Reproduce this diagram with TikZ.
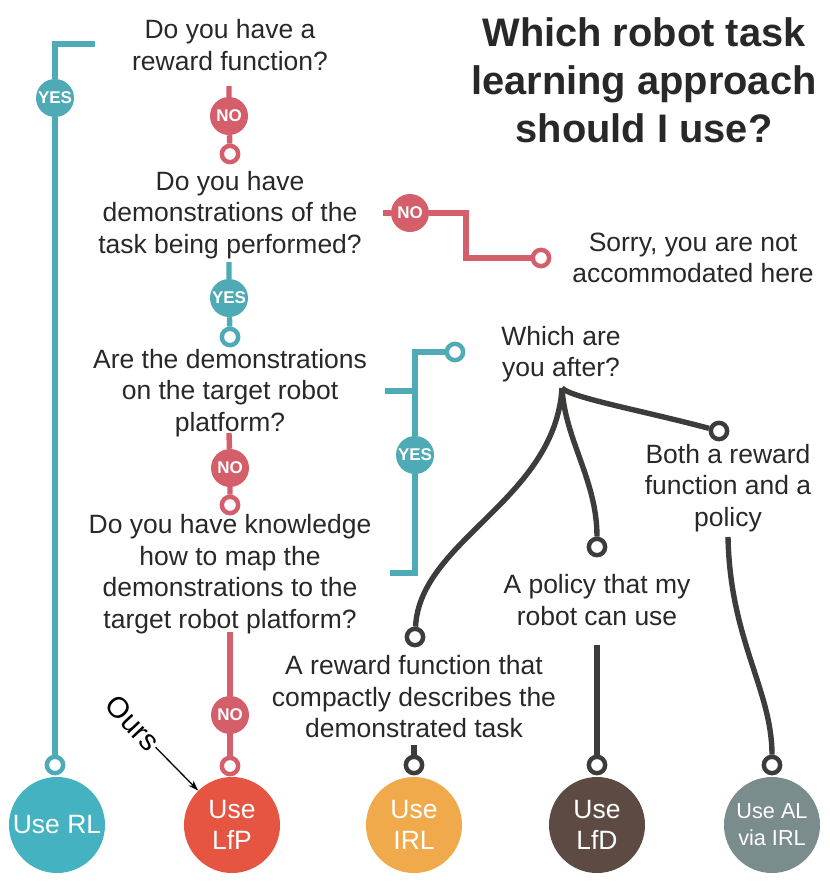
\documentclass[tikz,border=0pt]{standalone}
\usepackage{fontspec}
\setmainfont{Liberation Sans}
\usepackage{xcolor}
\usepackage{tikz}
\usetikzlibrary{
    arrows.meta,
    positioning,
    calc
}
\definecolor{yesTeal}{RGB}{78,170,180}
\definecolor{noRed}{RGB}{212,94,106}
\definecolor{treeGray}{RGB}{60,61,59}
\definecolor{textGray}{RGB}{40,40,40}
\definecolor{rlTeal}{RGB}{69,178,194}
\definecolor{lfpRed}{RGB}{229,85,65}
\definecolor{irlOrange}{RGB}{240,169,75}
\definecolor{lfdBrown}{RGB}{93,75,67}
\definecolor{alGray}{RGB}{123,140,140}

\begin{document}
\begin{tikzpicture}[
    x=0.03cm,
    y=-0.03cm,
    font=\fontsize{22.6}{26.9}\selectfont,
    question/.style={
        align=center,
        text=textGray,
        inner sep=0pt
    },
    hub/.style={
        circle,
        fill=#1,
        inner sep=0pt,
        minimum size=1.14cm,
        text=white,
        font=\bfseries\fontsize{14.5}{16}\selectfont
    },
    ring/.style={
        circle,
        draw=#1,
        fill=white,
        line width=3.8pt,
        inner sep=0pt,
        minimum size=0.49cm
    },
    outcome/.style={
        circle,
        fill=#1,
        inner sep=0pt,
        minimum size=2.88cm,
        text=white,
        align=center
    },
    flow/.style={
        draw=#1,
        line width=4.6pt
    }
]

\useasboundingbox (0,0) rectangle (830,882);

% =============================================================
% Title
% =============================================================
\node[
    align=center,
    text=textGray,
    inner sep=0pt,
    font=\bfseries\fontsize{34}{41}\selectfont
] (title) at (644,80)
{Which robot task\\learning approach\\should I use?};

% =============================================================
% Questions down the middle
% =============================================================
\node[question] (q1) at (230,45) {Do you have a\\reward function?};
\node[hub=noRed] (no1) at (229,116) {NO};
\node[ring=noRed] (r2) at (230,154) {};

\node[question] (q2) at (230,215)
{Do you have\\demonstrations of the\\task being performed?};
\node[hub=yesTeal] (yes2) at (229,298) {YES};
\node[ring=yesTeal] (r3) at (230,337) {};

\node[question] (q3) at (230,393)
{Are the demonstrations\\on the target robot\\platform?};
\node[hub=noRed] (no3) at (230,468) {NO};
\node[ring=noRed] (r4) at (230,505) {};

\node[question] (q4) at (230,574)
{Do you have knowledge\\how to map the\\demonstrations to the\\target robot platform?};
\node[hub=noRed] (no4) at (230,715) {NO};
\node[ring=noRed] (rlfp) at (230,766) {};

% Reward function available
\node[hub=yesTeal] (yes1) at (55,98) {YES};
\node[ring=yesTeal] (rrl) at (55,765) {};

% No demonstrations at all
\node[hub=noRed] (no2) at (410,213) {NO};
\node[ring=noRed] (rsorry) at (541,258) {};
\node[question] (sorry) at (693,258)
{Sorry, you are not\\accommodated here};

% Demonstrations usable on the robot
\node[hub=yesTeal] (yes3) at (415,455) {YES};
\node[ring=yesTeal] (rwhich) at (455,352) {};
\node[question] (which) at (561,354) {Which are\\you after?};

% =============================================================
% What the user is after
% =============================================================
\node[ring=treeGray] (rboth) at (719,431) {};
\node[ring=treeGray] (rpolicy) at (597,547) {};
\node[ring=treeGray] (rreward) at (415,637) {};

\node[question] (both) at (728,488)
{Both a reward\\function and a\\policy};
\node[question] (policy) at (597,600)
{A policy that my\\robot can use};
\node[question] (reward) at (414,697)
{A reward function that\\compactly describes the\\demonstrated task};

\node[ring=treeGray] (rirl) at (414,765) {};
\node[ring=treeGray] (rlfd) at (597,765) {};
\node[ring=treeGray] (ral) at (772,765) {};

% =============================================================
% Outcomes
% =============================================================
\node[outcome=rlTeal] (rl) at (57,825) {Use RL};
\node[outcome=lfpRed] (lfp) at (232,825) {Use\\LfP};
\node[outcome=irlOrange] (irl) at (414,825) {Use\\IRL};
\node[outcome=lfdBrown] (lfd) at (597,825) {Use\\LfD};
\node[
    outcome=alGray,
    font=\fontsize{18.5}{23}\selectfont
] (al) at (772,825) {Use AL\\via IRL};

% =============================================================
% Connectors
% =============================================================
\coordinate (q1yes) at (95,44);
\coordinate (q1no) at (229,86);
\coordinate (q2no) at (383,213);
\coordinate (bend2) at (466,236);
\coordinate (q2yes) at (229,262);
\coordinate (q3yes) at (385,391);
\coordinate (q3no) at (229,433);
\coordinate (q4yes) at (390,573);
\coordinate (q4no) at (230,632);
\coordinate (root) at (562,388);
\coordinate (bothtail) at (728,537);
\coordinate (policytail) at (597,645);
\coordinate (rewardtail) at (414,745);

% YES branches
\draw[flow=yesTeal] (q1yes) -| (yes1);
\draw[flow=yesTeal] (yes1) -- (rrl);
\draw[flow=yesTeal] (q2yes) -- (yes2) -- (r3);
\draw[flow=yesTeal] (q4yes) -| (yes3);
\draw[flow=yesTeal] (yes3) |- (rwhich);
\draw[flow=yesTeal] (q3yes) -- (q3yes -| yes3);

% NO branches
\draw[flow=noRed] (q1no) -- (no1) -- (r2);
\draw[flow=noRed] (q2no) -- (no2);
\draw[flow=noRed] (no2) -| (bend2) |- (rsorry);
\draw[flow=noRed] (q3no) -- (no3) -- (r4);
\draw[flow=noRed] (q4no) -- (no4) -- (rlfp);

% Choice tree
\draw[flow=treeGray] (root) .. controls (572,398) and (640,410) .. (rboth);
\draw[flow=treeGray] (root) .. controls (565,440) and (597,480) .. (rpolicy);
\draw[flow=treeGray] (root) .. controls (555,500) and (420,540) .. (rreward);
\draw[flow=treeGray] (bothtail) .. controls (730,640) and (772,690) .. (ral);
\draw[flow=treeGray] (policytail) -- (rlfd);
\draw[flow=treeGray] (rewardtail) -- (rirl);

% Our approach
\node[
    rotate=-47,
    inner sep=1pt,
    text=black,
    font=\fontsize{25}{28}\selectfont
] (ours) at (133,723) {Ours};

\draw[
    -{Stealth[length=9pt,width=6pt]},
    line width=1.1pt
]
(ours.east) -- (lfp);

\end{tikzpicture}
\end{document}
